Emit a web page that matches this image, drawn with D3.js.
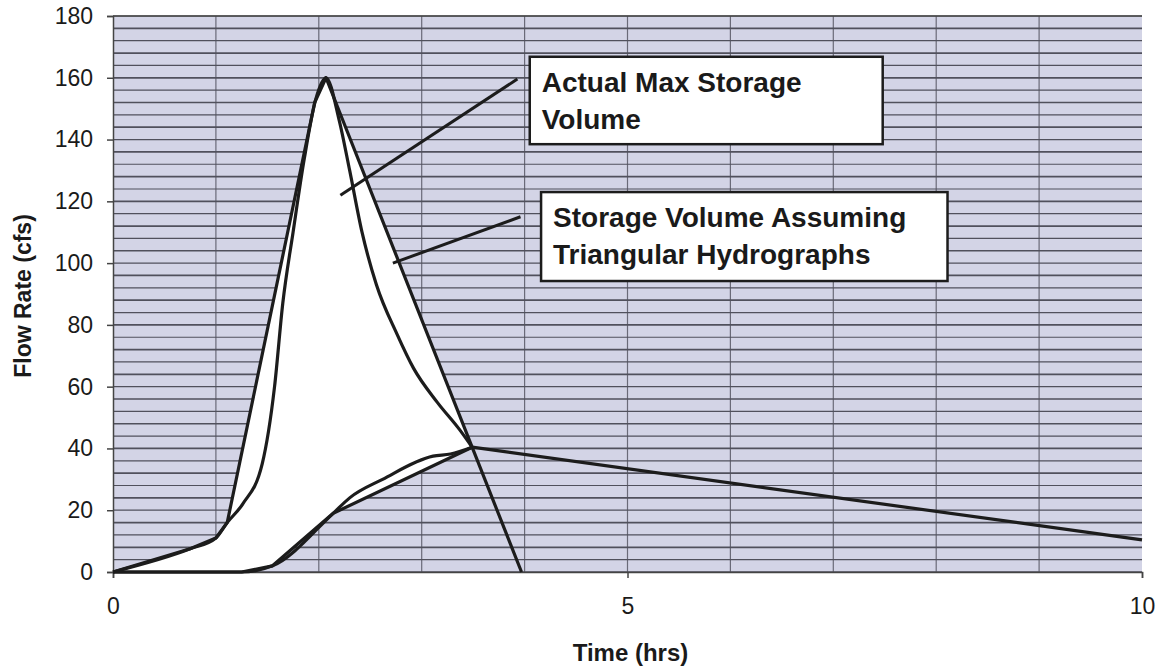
<!DOCTYPE html>
<html lang="en">
<head>
    <style>
    body { margin: 0; background: #fff; }
    text { font-family: "Liberation Sans", Arial, sans-serif; fill: #1a1a1a; }
    </style>
    <title>Storage volume</title>
</head>
<body><script src="https://d3js.org/d3.v7.min.js"></script>
<div id="hi">
</div>
<script>
// hydrograph points [time (hrs), flow (cfs)]
const actualInflow = [
    [0, 0], [0.75, 7.5], [1.0, 11], [1.11, 16], [1.26, 22], [1.45, 35],
    [1.57, 60], [1.65, 87], [1.75, 110], [1.86, 134], [1.97, 153], [2.07, 160],
    [2.2, 146], [2.3, 130], [2.42, 110], [2.56, 93], [2.76, 77], [2.92, 66],
    [3.15, 55], [3.37, 46], [3.49, 40.4]
];
const triInflow = [[0, 0], [0.75, 7.5], [1.0, 11], [1.11, 16], [1.96, 152], [2.07, 160],
    [3.49, 40.4], [3.97, 0]];
const actualOutflow = [
    [0, 0], [1.25, 0], [1.55, 2], [2.14, 19], [2.3, 24], [2.62, 30],
    [3.11, 37.5], [3.28, 38.2], [3.49, 40.4]
];
const triOutflow = [[0, 0], [1.25, 0], [1.55, 2], [2.14, 19], [3.49, 40.4], [10, 10.4]];

const xTicks = [0, 5, 10];
const yTicks = [0, 20, 40, 60, 80, 100, 120, 140, 160, 180];

const notes = [
    {lines: ["Actual Max Storage", "Volume"], box: [4.05, 166.8, 7.48, 138.5], from: [2.21, 122], to: [3.93, 159.6]},
    {lines: ["Storage Volume Assuming", "Triangular Hydrographs"], box: [4.16, 123, 8.11, 94.2], from: [2.72, 100], to: [3.96, 115]}
];

const w = 1165;
const h = 668;

const svg = d3.select("#hi")
    .append("svg")
    .attr("width", w)
    .attr("height", h);

const x = d3.scaleLinear().domain([0, 10]).range([113, 1142]);
const y = d3.scaleLinear().domain([0, 180]).range([572, 16]);

// plot background
svg.append("rect")
    .attr("x", x(0)).attr("y", y(180))
    .attr("width", x(10) - x(0)).attr("height", y(0) - y(180))
    .attr("fill", "#d3d4e6");

// vertical grid, 1 hr
svg.append("g").selectAll("line").data(d3.range(1, 10)).enter().append("line")
    .attr("x1", d => x(d)).attr("x2", d => x(d))
    .attr("y1", y(180)).attr("y2", y(0))
    .attr("stroke", "#6a6a78").attr("stroke-width", 1.2);

// horizontal grid, 4 cfs
svg.append("g").selectAll("line").data(d3.range(0, 181, 4)).enter().append("line")
    .attr("x1", x(0)).attr("x2", x(10))
    .attr("y1", d => y(d)).attr("y2", d => y(d))
    .attr("stroke", "#50505c").attr("stroke-width", (d, i) => i % 2 ? 1.2 : 1.7);

// storage area (white) between triangular inflow and outflow
const fillPts = triInflow.filter(d => d[0] <= 3.49)
    .concat(triOutflow.filter(d => d[0] <= 3.49).reverse());
svg.append("path")
    .attr("d", d3.line().x(d => x(d[0])).y(d => y(d[1]))(fillPts) + "Z")
    .attr("fill", "#fff");

// axes
const yAxis = svg.append("g").attr("transform", `translate(${x(0)},0)`)
    .call(d3.axisLeft(y).tickValues(yTicks).tickSize(6).tickPadding(14));
const xAxis = svg.append("g").attr("transform", `translate(0,${y(0)})`)
    .call(d3.axisBottom(x).tickValues(xTicks).tickSize(6).tickPadding(24));
[yAxis, xAxis].forEach(a => {
    a.select(".domain").attr("stroke", "#444").attr("stroke-width", 1.5);
    a.selectAll(".tick line").attr("stroke", "#444").attr("stroke-width", 1.5);
    a.selectAll("text").attr("font-size", 23).attr("fill", "#1a1a1a")
        .attr("font-family", '"Liberation Sans", Arial, sans-serif');
});
xAxis.selectAll("text").attr("dy", "0.5em");
svg.append("line")
    .attr("x1", x(0)).attr("x2", x(10)).attr("y1", y(180)).attr("y2", y(180))
    .attr("stroke", "#444").attr("stroke-width", 1.5);

// hydrograph lines
const straight = d3.line().x(d => x(d[0])).y(d => y(d[1]));
const smooth = d3.line().x(d => x(d[0])).y(d => y(d[1])).curve(d3.curveMonotoneX);
[[triInflow, straight], [triOutflow, straight], [actualInflow, smooth], [actualOutflow, smooth]]
    .forEach(([data, gen]) => {
        svg.append("path")
            .attr("d", gen(data))
            .attr("fill", "none")
            .attr("stroke", "#1c1c1c")
            .attr("stroke-width", 3.2)
            .attr("stroke-linejoin", "round");
    });

// annotations
notes.forEach(n => {
    svg.append("line")
        .attr("x1", x(n.from[0])).attr("y1", y(n.from[1]))
        .attr("x2", x(n.to[0])).attr("y2", y(n.to[1]))
        .attr("stroke", "#1c1c1c").attr("stroke-width", 3);
    svg.append("rect")
        .attr("x", x(n.box[0])).attr("y", y(n.box[1]))
        .attr("width", x(n.box[2]) - x(n.box[0]))
        .attr("height", y(n.box[3]) - y(n.box[1]))
        .attr("fill", "#fff").attr("stroke", "#1c1c1c").attr("stroke-width", 2.5);
    n.lines.forEach((t, i) => {
        svg.append("text")
            .attr("x", x(n.box[0]) + 12)
            .attr("y", y(n.box[1]) + 35 + i * 37)
            .attr("font-size", 28).attr("font-weight", "bold")
            .text(t);
    });
});

// axis titles
svg.append("text")
    .attr("x", x(5) + 3).attr("y", 661)
    .attr("text-anchor", "middle")
    .attr("font-size", 24).attr("font-weight", "bold")
    .text("Time (hrs)");
svg.append("text")
    .attr("transform", `translate(31,${y(90) + 2}) rotate(-90)`)
    .attr("text-anchor", "middle")
    .attr("font-size", 23).attr("font-weight", "bold")
    .text("Flow Rate (cfs)");
</script>
</body>
</html>
